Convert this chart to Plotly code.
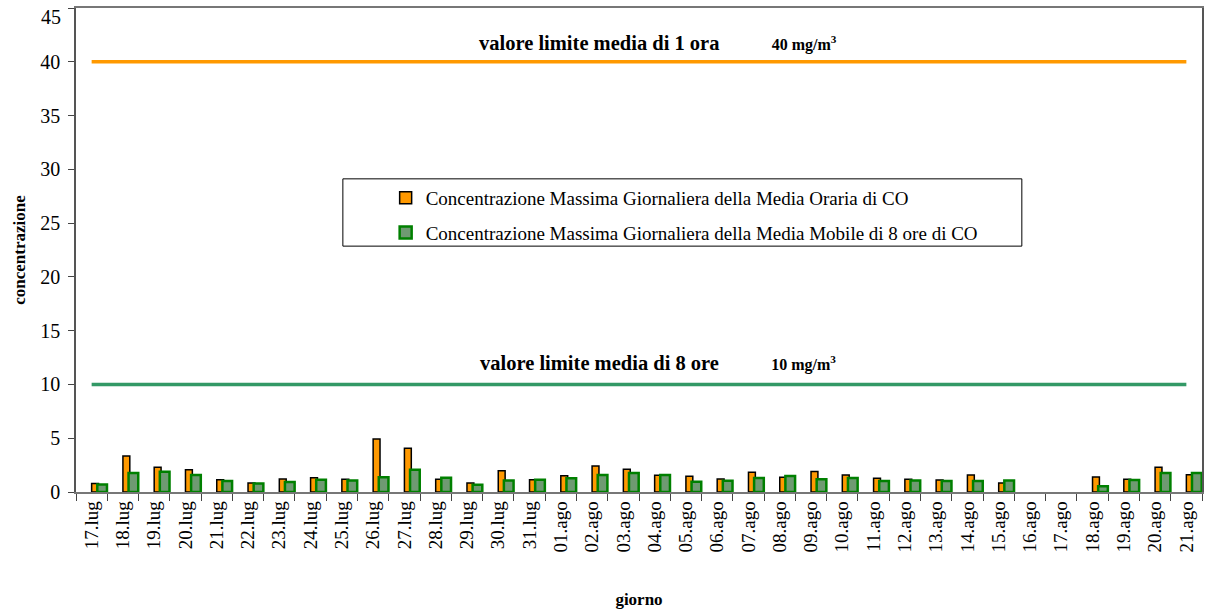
import plotly.graph_objects as go

# Giorni (categorie asse x)
giorni = ["17.lug", "18.lug", "19.lug", "20.lug", "21.lug", "22.lug", "23.lug", "24.lug",
          "25.lug", "26.lug", "27.lug", "28.lug", "29.lug", "30.lug", "31.lug", "01.ago",
          "02.ago", "03.ago", "04.ago", "05.ago", "06.ago", "07.ago", "08.ago", "09.ago",
          "10.ago", "11.ago", "12.ago", "13.ago", "14.ago", "15.ago", "16.ago", "17.ago",
          "18.ago", "19.ago", "20.ago", "21.ago"]

# Massima giornaliera della media oraria di CO (mg/m3)
media_oraria = [0.8, 3.35, 2.3, 2.07, 1.15, 0.84, 1.21, 1.33,
                1.18, 4.93, 4.06, 1.18, 0.84, 1.98, 1.15, 1.52,
                2.42, 2.11, 1.55, 1.46, 1.21, 1.83, 1.36, 1.9,
                1.58, 1.27, 1.18, 1.12, 1.58, 0.84, None, None,
                1.39, 1.18, 2.29, 1.61]

# Massima giornaliera della media mobile di 8 ore di CO (mg/m3)
media_mobile_8h = [0.7, 1.77, 1.89, 1.58, 1.02, 0.8, 0.93, 1.15,
                   1.08, 1.36, 2.08, 1.33, 0.68, 1.08, 1.15, 1.27,
                   1.58, 1.77, 1.58, 0.96, 1.05, 1.3, 1.49, 1.18,
                   1.3, 1.02, 1.08, 1.02, 1.02, 1.08, None, None,
                   0.53, 1.12, 1.77, 1.77]

# Valori limite
limite_1h = 40
limite_8h = 10

# Asse y
y_max = 45
y_ticks = list(range(0, y_max + 1, 5))

SERIF = "Liberation Serif, Times New Roman, serif"
GAP = "&nbsp;" * 11


def etichetta_limite(descr, valore):
    # descrizione più larga, valore più compatto (come nell'originale)
    return (f"<b><span style='font-size:20.5px'>{descr}</span>{GAP}"
            f"<span style='font-size:16px'>{valore} mg/m<sup>3</sup></span></b>")


fig = go.Figure()

fig.add_trace(go.Bar(
    x=giorni, y=media_oraria,
    name="Concentrazione Massima Giornaliera della Media Oraria di CO",
    width=0.22, offset=0.0,
    marker=dict(color="#FF9900", line=dict(color="black", width=1.5)),
    legendgroup="a",
))
fig.add_trace(go.Bar(
    x=giorni, y=media_mobile_8h,
    name="Concentrazione Massima Giornaliera della Media Mobile di 8 ore di CO",
    width=0.31, offset=0.18,
    marker=dict(color="#6f9a72", line=dict(color="#008000", width=2.5)),
    legendgroup="b",
))

# Linee dei valori limite
fig.add_trace(go.Scatter(
    x=[giorni[0], giorni[-1]], y=[limite_1h, limite_1h], mode="lines",
    line=dict(color="#FF9900", width=3.5), showlegend=False, hoverinfo="skip",
))
fig.add_trace(go.Scatter(
    x=[giorni[0], giorni[-1]], y=[limite_8h, limite_8h], mode="lines",
    line=dict(color="#339966", width=3.5), showlegend=False, hoverinfo="skip",
))

fig.add_annotation(
    x=0.517, y=limite_1h, xref="paper", yref="y", yshift=19, showarrow=False,
    text=etichetta_limite("valore limite media di 1 ora", limite_1h),
    font=dict(family=SERIF, size=19, color="black"),
)
fig.add_annotation(
    x=0.517, y=limite_8h, xref="paper", yref="y", yshift=21, showarrow=False,
    text=etichetta_limite("valore limite media di 8 ore", limite_8h),
    font=dict(family=SERIF, size=19, color="black"),
)

# etichetta del valore massimo dell'asse y, spostata in basso per non uscire dal bordo
fig.add_annotation(
    x=0, xref="paper", xanchor="right", xshift=-13,
    y=y_max, yref="y", yanchor="top", yshift=4,
    text=str(y_max), showarrow=False,
    font=dict(family=SERIF, size=20, color="black"),
)

# cornice della legenda (più larga delle voci, come nell'originale)
fig.add_shape(
    type="rect", xref="paper", yref="paper",
    x0=0.237, x1=0.840, y0=0.508, y1=0.647,
    line=dict(color="black", width=1), fillcolor="white", layer="below",
)

fig.update_layout(
    width=1206, height=611,
    margin=dict(l=76, r=4, t=8, b=119),
    paper_bgcolor="white", plot_bgcolor="rgba(0,0,0,0)",
    barmode="overlay",
    font=dict(family=SERIF, size=17, color="black"),
    showlegend=True,
    legend=dict(
        x=0.275, y=0.647, xanchor="left", yanchor="top",
        borderwidth=0, bgcolor="rgba(0,0,0,0)",
        font=dict(family=SERIF, size=19, color="black"),
        traceorder="grouped", tracegroupgap=7,
        itemwidth=30,
        itemclick=False,
    ),
)

fig.update_xaxes(
    type="category", tickangle=-90, automargin=False,
    ticks="outside", ticklen=7, tickcolor="#444", tickson="boundaries",
    showline=True, linecolor="#777", linewidth=1.5, mirror=True,
    showgrid=False,
    tickfont=dict(family=SERIF, size=19),
    title=dict(text="<b>giorno</b>", font=dict(family=SERIF, size=17), standoff=42),
    range=[-0.5, len(giorni) - 0.5],
)
fig.update_yaxes(
    range=[0, y_max], automargin=False,
    tickvals=y_ticks,
    ticktext=[str(v) if v < y_max else "" for v in y_ticks],
    ticks="outside", ticklen=6, tickcolor="#444",
    ticklabelstandoff=4,
    showline=True, linecolor="#555", linewidth=1.5, mirror=True,
    showgrid=False, zeroline=False,
    tickfont=dict(family=SERIF, size=20),
    title=dict(text="<b>concentrazione</b>", font=dict(family=SERIF, size=17), standoff=10),
)

fig.write_html(
    "out.html",
    config={"displayModeBar": False},
    post_script="document.body.style.margin='0';document.body.style.overflow='hidden';",
)
